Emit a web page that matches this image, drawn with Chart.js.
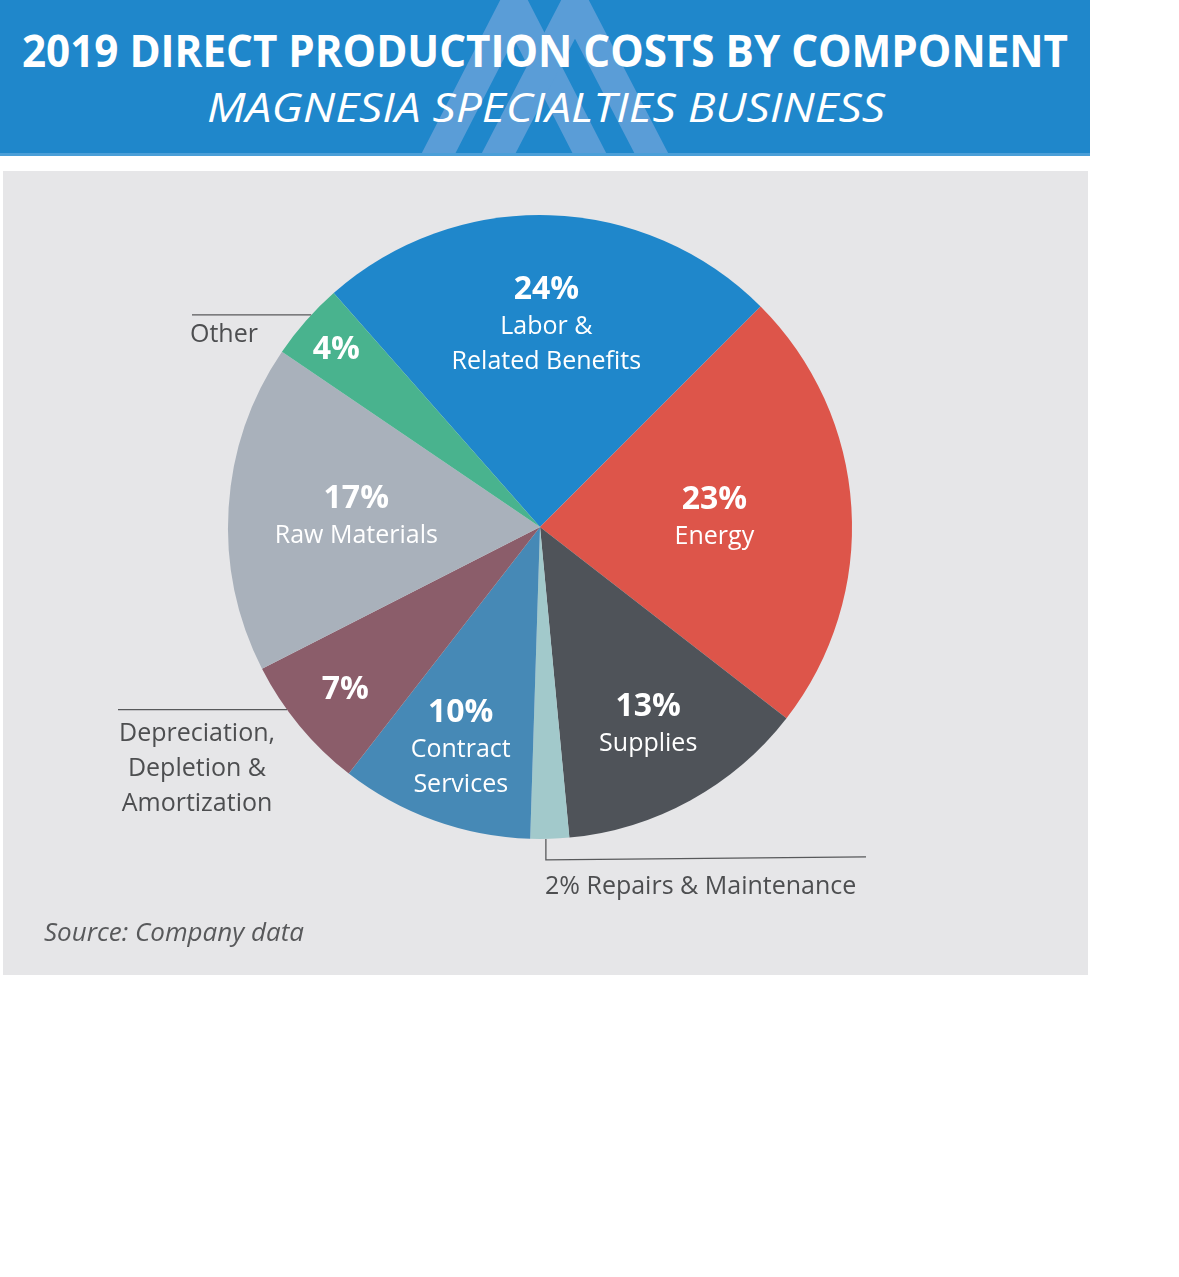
<!DOCTYPE html>
<html>
<head>
<meta charset="utf-8">
<script src="https://cdn.jsdelivr.net/npm/chart.js@4.4.1/dist/chart.umd.min.js"></script>
<style>
    html, body { margin: 0; padding: 0; background: #ffffff; }
    body { width: 1179px; height: 1277px; position: relative; overflow: hidden; font-family: "Open Sans", sans-serif; }
    #header { position: absolute; left: 0; top: 0; }
    #panel { position: absolute; left: 3px; top: 171px; width: 1085px; height: 804px; background: #e6e6e8; }
    #panel canvas { display: block; }
</style>
</head>
<body>
<svg id="header" width="1090" height="157" viewBox="0 0 1090 157">
    <defs><clipPath id="band"><rect x="0" y="0" width="1090" height="153"></rect></clipPath></defs>
    <rect x="0" y="0" width="1090" height="155" fill="#1f87cb"></rect>
    <g clip-path="url(#band)" fill="none" stroke="#5a9dd7" stroke-width="30" stroke-linejoin="miter" stroke-miterlimit="20">
        <polyline points="430,170 514,6 598,170"></polyline>
        <polyline points="490,170 575,6 660,170"></polyline>
    </g>
    <rect x="0" y="153" width="1090" height="3" fill="#4b9fd8"></rect>
    <text x="545" y="67" text-anchor="middle" textLength="1046" lengthAdjust="spacingAndGlyphs"
          font-family="Open Sans" font-weight="700" font-size="45" fill="#ffffff">2019 DIRECT PRODUCTION COSTS BY COMPONENT</text>
    <text x="546" y="122" text-anchor="middle" textLength="678" lengthAdjust="spacingAndGlyphs"
          font-family="Open Sans" font-style="italic" font-size="41" fill="#ffffff">MAGNESIA SPECIALTIES BUSINESS</text>
</svg>
<div id="panel"><canvas id="pie" width="1085" height="804"></canvas></div>
<script>
(function () {
    "use strict";

    /* data */
    var categories = ["Labor & Related Benefits", "Energy", "Supplies", "Repairs & Maintenance",
        "Contract Services", "Depreciation, Depletion & Amortization", "Raw Materials", "Other"];
    var shares = [24, 23, 13, 2, 10, 7, 17, 4];
    var sliceColors = ["#1f87cb", "#dd554a", "#4f5359", "#a2c9cb", "#4689b6", "#8b5d6a", "#a9b1bb", "#49b38e"];

    /* text drawn inside each slice (empty = name sits outside) */
    var insideNames = [["Labor &", "Related Benefits"], ["Energy"], ["Supplies"], [],
        ["Contract", "Services"], [], ["Raw Materials"], []];
    var pctInside = [true, true, true, false, true, true, true, true];
    var labelRadius = [0.65, 0.56, 0.72, 0, 0.75, 0.81, 0.59, 0.87];

    /* names placed outside with leader lines */
    var callouts = [
        { index: 7, t: 0.6, kind: "left", endX: 189, lines: ["Other"], textX: 187, align: "left", dy: 20 },
        { index: 5, t: 0.65, kind: "left", endX: 115, lines: ["Depreciation,", "Depletion &", "Amortization"], textX: 194, align: "center", dy: 24 },
        { index: 3, t: 0.6, kind: "down", drop: 21, endX: 863, lines: ["2% Repairs & Maintenance"], textX: 542, align: "left", dy: 27 }
    ];

    var LABEL_FONT = '"Open Sans", sans-serif';

    var sliceLabels = {
        id: "sliceLabels",
        afterDatasetsDraw: function (chart) {
            var ctx = chart.ctx;
            var arcs = chart.getDatasetMeta(0).data;
            ctx.save();
            ctx.textAlign = "center";
            ctx.textBaseline = "middle";
            ctx.fillStyle = "#ffffff";

            arcs.forEach(function (arc, i) {
                var rows = [];
                if (pctInside[i]) rows.push({ text: shares[i] + "%", bold: true });
                insideNames[i].forEach(function (n) { rows.push({ text: n, bold: false }); });
                if (!rows.length) return;
                var p = arc.getProps(["x", "y", "startAngle", "endAngle", "outerRadius"], true);
                var mid = (p.startAngle + p.endAngle) / 2;
                var r = p.outerRadius * labelRadius[i];
                var cx = p.x + Math.cos(mid) * r;
                var cy = p.y + Math.sin(mid) * r;
                // gaps: percent -> name 37, name -> name 35
                var gaps = [];
                for (var k = 1; k < rows.length; k++) gaps.push(k === 1 ? 37 : 35);
                var total = gaps.reduce(function (a, b) { return a + b; }, 0);
                var y = cy - total / 2 + 2;
                rows.forEach(function (row, k) {
                    ctx.font = row.bold ? "700 32px " + LABEL_FONT : "400 25px " + LABEL_FONT;
                    ctx.fillText(row.text, cx, y);
                    if (k < gaps.length) y += gaps[k];
                });
            });

            /* callouts */
            ctx.strokeStyle = "#58595b";
            ctx.lineWidth = 1.3;
            ctx.fillStyle = "#4d4e50";
            ctx.font = "400 25px " + LABEL_FONT;
            callouts.forEach(function (c) {
                var p = arcs[c.index].getProps(["x", "y", "startAngle", "endAngle", "outerRadius"], true);
                var a = p.startAngle + c.t * (p.endAngle - p.startAngle);
                var ex = p.x + Math.cos(a) * p.outerRadius;
                var ey = p.y + Math.sin(a) * p.outerRadius;
                var baseY;
                ctx.beginPath();
                if (c.kind === "left") {
                    ctx.moveTo(ex, ey);
                    ctx.lineTo(c.endX, ey);
                    baseY = ey;
                } else {
                    ctx.moveTo(ex, ey);
                    ctx.lineTo(ex, ey + c.drop);
                    ctx.lineTo(c.endX, ey + c.drop - 3);
                    baseY = ey + c.drop;
                }
                ctx.stroke();
                ctx.textAlign = c.align;
                c.lines.forEach(function (line, k) {
                    ctx.fillText(line, c.textX, baseY + c.dy + k * 35);
                });
            });

            /* source note */
            ctx.textAlign = "left";
            ctx.fillStyle = "#58595b";
            ctx.font = "italic 400 26px " + LABEL_FONT;
            ctx.fillText("Source: Company data", 41, 763);
            ctx.restore();
        }
    };

    new Chart(document.getElementById("pie").getContext("2d"), {
        type: "pie",
        data: {
            labels: categories,
            datasets: [{
                data: shares,
                backgroundColor: sliceColors,
                borderWidth: 0,
                hoverOffset: 0
            }]
        },
        options: {
            responsive: false,
            animation: false,
            rotation: -41.4,
            layout: { padding: { left: 225, right: 236, top: 44, bottom: 136 } },
            plugins: {
                legend: { display: false },
                tooltip: { enabled: false }
            }
        },
        plugins: [sliceLabels]
    });
})();
</script>
</body>
</html>
